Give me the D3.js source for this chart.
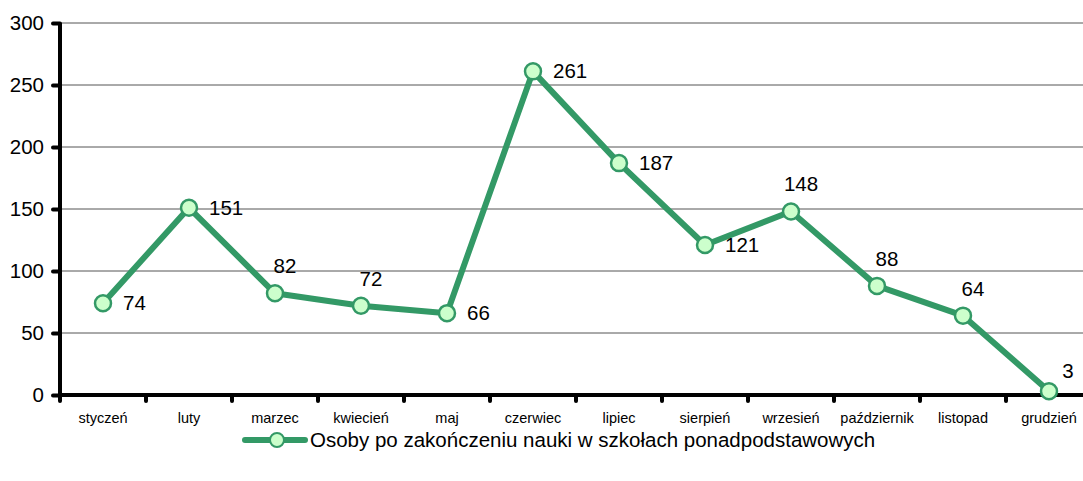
<!DOCTYPE html>
<html>
<head>
<meta charset="utf-8">
<script src="https://cdn.jsdelivr.net/npm/d3@7"></script>
<style>
  body { margin: 0; background: #fff; }
  text { font-family: Arial, "Liberation Sans", sans-serif; fill: #000; }
</style>
</head>
<body>
<div id="chart"></div>
<script>
var months = ['styczeń','luty','marzec','kwiecień','maj','czerwiec','lipiec','sierpień','wrzesień','październik','listopad','grudzień']
var values = [74, 151, 82, 72, 66, 261, 187, 121, 148, 88, 64, 3]
var yTicks = [0, 50, 100, 150, 200, 250, 300]
var seriesName = 'Osoby po zakończeniu nauki w szkołach ponadpodstawowych'
// where each value label sits: r = right of point, t = above, tr = above right
var labelPos = ['r','r','t','t','r','r','r','r','t','t','t','tr']

var green = '#339966', pale = '#ccffcc'

var svg = d3.select('#chart').append('svg').attr('width', 1083).attr('height', 481)

var x = d3.scaleBand().domain(months).range([60, 1092])
var y = d3.scaleLinear().domain([0, 300]).range([395, 23])

// gridlines
svg.append('g').selectAll('line').data(yTicks.slice(1)).join('line')
  .attr('x1', 60).attr('x2', 1092)
  .attr('y1', d => y(d)).attr('y2', d => y(d))
  .attr('stroke', '#555').attr('stroke-width', 1)

// y axis
var yAxis = svg.append('g').attr('transform', 'translate(60,0)')
  .call(d3.axisLeft(y).tickValues(yTicks).tickSize(7).tickPadding(9))
yAxis.select('.domain').attr('stroke', '#000').attr('stroke-width', 4).attr('d', 'M0,' + y(300) + 'V' + (y(0) + 2))
yAxis.selectAll('.tick line').attr('stroke', '#000').attr('stroke-width', 4).attr('stroke-linecap', 'round')
yAxis.selectAll('.tick text').style('font-size', '20.5px').attr('font-family', 'Arial, Liberation Sans, sans-serif')

// x axis
var xAxis = svg.append('g').attr('transform', 'translate(0,' + y(0) + ')')
xAxis.append('line').attr('x1', 58).attr('x2', 1092).attr('stroke', '#000').attr('stroke-width', 4)
xAxis.selectAll('line.tk').data(months).join('line').attr('class', 'tk')
  .attr('x1', d => x(d)).attr('x2', d => x(d)).attr('y1', 0).attr('y2', 6)
  .attr('stroke', '#000').attr('stroke-width', 4).attr('stroke-linecap', 'round')
xAxis.selectAll('text').data(months).join('text')
  .attr('x', d => x(d) + x.bandwidth() / 2).attr('y', 28)
  .attr('text-anchor', 'middle').style('font-size', '14.5px').text(d => d)

// series line
var cx = (d, i) => x(months[i]) + x.bandwidth() / 2
var line = d3.line().x(cx).y(d => y(d))
svg.append('path').datum(values).attr('d', line)
  .attr('fill', 'none').attr('stroke', green).attr('stroke-width', 6).attr('stroke-linejoin', 'round')

svg.append('g').selectAll('circle').data(values).join('circle')
  .attr('cx', cx).attr('cy', d => y(d)).attr('r', 8)
  .attr('fill', pale).attr('stroke', green).attr('stroke-width', 2.5)

// value labels
svg.append('g').selectAll('text').data(values).join('text')
  .attr('x', (d, i) => labelPos[i] == 'r' ? cx(d, i) + 20 : labelPos[i] == 't' ? cx(d, i) + 10 : cx(d, i) + 19)
  .attr('y', (d, i) => labelPos[i] == 'r' ? y(d) + 7 : labelPos[i] == 't' ? y(d) - 20 : y(d) - 13)
  .attr('text-anchor', (d, i) => labelPos[i] == 'r' ? 'start' : 'middle')
  .style('font-size', '20.5px')
  .text(d => d)

// legend
var lg = svg.append('g').attr('transform', 'translate(0,440)')
lg.append('line').attr('x1', 245).attr('x2', 305).attr('stroke', green).attr('stroke-width', 6).attr('stroke-linecap', 'round')
lg.append('circle').attr('cx', 277).attr('r', 7).attr('fill', pale).attr('stroke', green).attr('stroke-width', 2)
lg.append('text').attr('x', 310).attr('y', 7).style('font-size', '20.5px').text(seriesName)
</script>
</body>
</html>
